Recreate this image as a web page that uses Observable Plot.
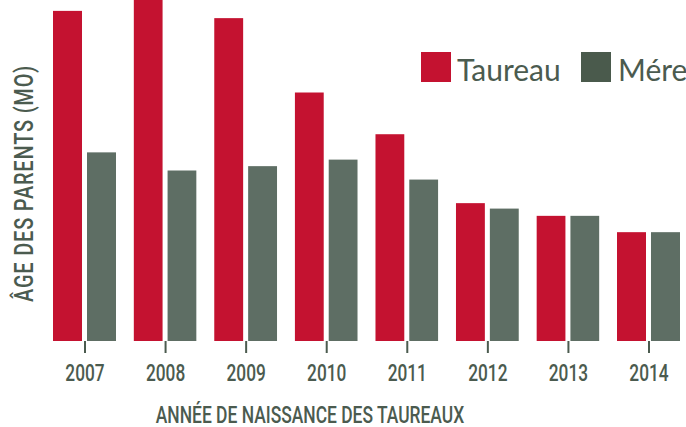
<!DOCTYPE html>
<html>
<head>
<meta charset="utf-8">
<script src="https://cdn.jsdelivr.net/npm/d3@7"></script>
<script src="https://cdn.jsdelivr.net/npm/@observablehq/plot@0.6"></script>
<style>
  html, body { margin: 0; padding: 0; background: white; }
  #wrap { position: relative; width: 686px; height: 427px; overflow: hidden; }
  .ov { position: absolute; white-space: nowrap; line-height: 1; color: #4b5b4f; font-family: Roboto, sans-serif; }
  .ttl { font-weight: 500; text-align: center; width: 500px; }
  .sw { position: absolute; width: 30px; height: 30px; }
  .lg { font-family: Lato, 'Open Sans', sans-serif; font-size: 30px; }
</style>
</head>
<body>
<div id="wrap"></div>
<script>
const years = ["2007", "2008", "2009", "2010", "2011", "2012", "2013", "2014"];
const series = ["Taureau", "Mére"];
const taureau = [91, 96, 89, 68.5, 57, 38, 34.5, 30];
const mere = [52, 47, 48.2, 50, 44.5, 36.5, 34.5, 30];
const colors = ["#c41230", "#5e6e64"];
const legendColors = ["#c41230", "#4a5a4c"];
const yLabel = "ÂGE DES PARENTS (MO)";
const xLabel = "ANNÉE DE NAISSANCE DES TAUREAUX";

const rows = years.flatMap((yr, i) => [
  {year: yr, serie: series[0], value: taureau[i]},
  {year: yr, serie: series[1], value: mere[i]}
]);

const chart = Plot.plot({
  width: 686,
  height: 427,
  marginTop: 0,
  marginBottom: 86,
  marginLeft: 53,
  marginRight: 6,
  facet: {data: rows, x: "year"},
  fx: {domain: years, paddingInner: 0.218, paddingOuter: 0, round: false, label: null, axis: "bottom", tickSize: 12, tickPadding: 10},
  x: {domain: series, paddingInner: 0.147, paddingOuter: 0, round: false, axis: null},
  y: {domain: [0, 94], axis: null},
  color: {domain: series, range: colors},
  style: {
    fontFamily: "Roboto, sans-serif",
    fontSize: "24px",
    fontWeight: 500,
    color: "#4b5b4f",
    background: "white"
  },
  marks: [
    Plot.barY(rows, {x: "serie", y: "value", fill: "serie", clip: true})
  ]
});

// condensed look for the tick labels and thicker ticks
chart.querySelectorAll('g[aria-label="fx-axis tick label"] text').forEach(t => {
  const tr = t.getAttribute("transform") || "";
  t.setAttribute("transform", tr + " scale(0.72,1)");
});
chart.querySelectorAll('g[aria-label="fx-axis tick"]').forEach(g => g.setAttribute("stroke-width", 2));

const wrap = document.getElementById("wrap");
wrap.appendChild(chart);

function ov(text, cls, css) {
  const d = document.createElement("div");
  d.className = "ov " + cls;
  d.textContent = text;
  Object.assign(d.style, css);
  wrap.appendChild(d);
  return d;
}

// Y axis title (box 500 wide, 25 tall, centred on (24,183))
ov(yLabel, "ttl", {left: (24 - 250) + "px", top: (183 - 12.5) + "px", height: "25px", fontSize: "25px", letterSpacing: "1px",
  transform: "rotate(-90deg) scaleX(0.8)", transformOrigin: "center"});
// X axis title (centred on x = 310)
ov(xLabel, "ttl", {left: (310 - 250) + "px", top: "402.5px", fontSize: "24px",
  transform: "scaleX(0.726)", transformOrigin: "center"});

// Legend
const lgX = [421, 581];
const txtX = [457, 618];
series.forEach((s, i) => {
  const sw = document.createElement("div");
  sw.className = "sw";
  Object.assign(sw.style, {left: lgX[i] + "px", top: "52px", background: legendColors[i]});
  wrap.appendChild(sw);
  ov(s, "lg", {left: txtX[i] + "px", top: "53.5px"});
});
</script>
</body>
</html>
